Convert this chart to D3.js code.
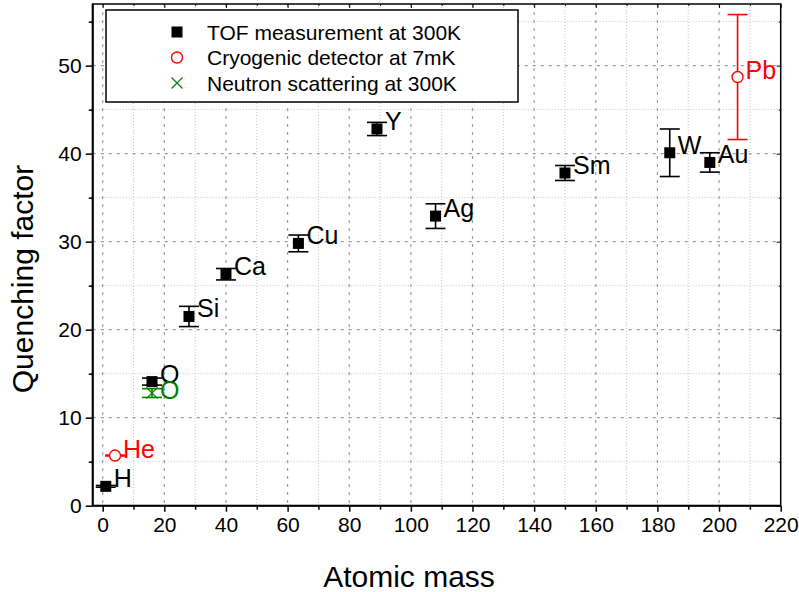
<!DOCTYPE html>
<html>
<head>
<meta charset="utf-8">
<script src="https://cdn.jsdelivr.net/npm/d3@7"></script>
<style>
  body { margin: 0; background: #fff; }
  svg text { font-family: "Liberation Sans", Arial, sans-serif; }
</style>
</head>
<body>
<svg id="chart" width="799" height="592"></svg>
<script>
// TOF measurement at 300K
var tofElements = ["H", "O", "Si", "Ca", "Cu", "Y", "Ag", "Sm", "W", "Au"];
var tofMass = [1, 16, 28, 40, 63.5, 89, 108, 150, 184, 197];
var tofQF = [2.2, 14.1, 21.5, 26.3, 29.8, 42.8, 32.9, 37.8, 40.1, 39.0];
var tofErr = [0.1, 0.4, 1.15, 0.65, 0.95, 0.75, 1.4, 0.85, 2.7, 1.1];

// Cryogenic detector at 7mK
var cryoElements = ["He", "Pb"];
var cryoMass = [4, 206];
var cryoQF = [5.7, 48.7];
var cryoErr = [0.05, 7.1];

// Neutron scattering at 300K
var neutronElements = ["O"];
var neutronMass = [16];
var neutronQF = [12.8];
var neutronErr = [0.5];

var xTicks = [0, 20, 40, 60, 80, 100, 120, 140, 160, 180, 200, 220];
var yTicks = [0, 10, 20, 30, 40, 50];

var legendLabels = ["TOF measurement at 300K", "Cryogenic detector at 7mK", "Neutron scattering at 300K"];

(function () {
    var svg = d3.select("#chart");
    var pLeft = 92.7, pRight = 780.7, pTop = 4, pBottom = 505.7;

    var x = d3.scaleLinear().domain([-3.24, 220]).range([pLeft, pRight]);
    var y = d3.scaleLinear().domain([0, 57]).range([pBottom, pTop]);

    var xMinor = d3.range(10, 220, 20);
    var yMinor = d3.range(5, 57, 10);

    // grid
    var grid = svg.append("g");
    grid.selectAll(".gxm").data(xMinor).enter().append("line")
        .attr("x1", d => x(d)).attr("x2", d => x(d)).attr("y1", pTop).attr("y2", pBottom)
        .attr("stroke", "#c4c4c4").attr("stroke-width", 1).attr("stroke-dasharray", "1,2");
    grid.selectAll(".gym").data(yMinor).enter().append("line")
        .attr("y1", d => y(d)).attr("y2", d => y(d)).attr("x1", pLeft).attr("x2", pRight)
        .attr("stroke", "#c4c4c4").attr("stroke-width", 1).attr("stroke-dasharray", "1,2");
    grid.selectAll(".gx").data(xTicks.filter(d => d < 220)).enter().append("line")
        .attr("x1", d => x(d)).attr("x2", d => x(d)).attr("y1", pTop).attr("y2", pBottom)
        .attr("stroke", "#9a9a9a").attr("stroke-width", 1.2).attr("stroke-dasharray", "3,5");
    grid.selectAll(".gy").data(yTicks.filter(d => d > 0)).enter().append("line")
        .attr("y1", d => y(d)).attr("y2", d => y(d)).attr("x1", pLeft).attr("x2", pRight)
        .attr("stroke", "#9a9a9a").attr("stroke-width", 1.2).attr("stroke-dasharray", "3,5");

    // frame, with inward ticks on top and right
    svg.append("rect").attr("x", pLeft).attr("y", pTop).attr("width", pRight - pLeft).attr("height", pBottom - pTop)
        .attr("fill", "none").attr("stroke", "#000").attr("stroke-width", 1.5);

    svg.append("g").attr("transform", "translate(0," + pTop + ")")
        .call(d3.axisTop(x).tickValues(xTicks).tickSize(-4).tickFormat(""))
        .call(g => g.select(".domain").remove());
    svg.append("g").attr("transform", "translate(0," + pTop + ")")
        .call(d3.axisTop(x).tickValues(xMinor).tickSize(-2).tickFormat(""))
        .call(g => g.select(".domain").remove());
    svg.append("g").attr("transform", "translate(" + pRight + ",0)")
        .call(d3.axisRight(y).tickValues(yTicks).tickSize(-4).tickFormat(""))
        .call(g => g.select(".domain").remove());
    svg.append("g").attr("transform", "translate(" + pRight + ",0)")
        .call(d3.axisRight(y).tickValues(yMinor).tickSize(-2).tickFormat(""))
        .call(g => g.select(".domain").remove());

    // bottom axis
    var xAxis = svg.append("g").attr("transform", "translate(0," + pBottom + ")")
        .call(d3.axisBottom(x).tickValues(xTicks).tickSize(6).tickPadding(5).tickFormat(d3.format("d")));
    xAxis.select(".domain").attr("d", "M" + pLeft + ",0H" + pRight).attr("stroke-width", 2);
    xAxis.selectAll(".tick line").attr("stroke-width", 1.5);
    xAxis.selectAll("text").attr("font-size", 21).attr("fill", "#000");
    svg.append("g").attr("transform", "translate(0," + pBottom + ")")
        .call(d3.axisBottom(x).tickValues(xMinor).tickSize(4).tickFormat(""))
        .call(g => g.select(".domain").remove())
        .selectAll("line").attr("stroke-width", 1.5);

    // left axis
    var yAxis = svg.append("g").attr("transform", "translate(" + pLeft + ",0)")
        .call(d3.axisLeft(y).tickValues(yTicks).tickSize(7).tickPadding(4));
    yAxis.select(".domain").attr("d", "M0," + pTop + "V" + pBottom).attr("stroke-width", 2);
    yAxis.selectAll(".tick line").attr("stroke-width", 1.5);
    yAxis.selectAll("text").attr("font-size", 21).attr("fill", "#000");
    svg.append("g").attr("transform", "translate(" + pLeft + ",0)")
        .call(d3.axisLeft(y).tickValues(yMinor).tickSize(4).tickFormat(""))
        .call(g => g.select(".domain").remove())
        .selectAll("line").attr("stroke-width", 1.5);

    // axis titles
    svg.append("text").attr("x", 409).attr("y", 587).attr("text-anchor", "middle")
        .attr("font-size", 30).text("Atomic mass");
    svg.append("text").attr("transform", "translate(33,279) rotate(-90)").attr("text-anchor", "middle")
        .attr("font-size", 30).text("Quenching factor");

    // error bars
    function errorBars(mass, qf, err, color) {
        var g = svg.append("g").attr("stroke", color).attr("stroke-width", 1.6).attr("fill", "none");
        mass.forEach(function (m, i) {
            var cx = x(m), y1 = y(qf[i] + err[i]), y2 = y(qf[i] - err[i]);
            g.append("line").attr("x1", cx).attr("x2", cx).attr("y1", y1).attr("y2", y2);
            g.append("line").attr("x1", cx - 10).attr("x2", cx + 10).attr("y1", y1).attr("y2", y1);
            g.append("line").attr("x1", cx - 10).attr("x2", cx + 10).attr("y1", y2).attr("y2", y2);
        });
    }
    errorBars(tofMass, tofQF, tofErr, "#000");
    errorBars(cryoMass, cryoQF, cryoErr, "#ff0000");
    errorBars(neutronMass, neutronQF, neutronErr, "#008000");

    // markers
    var sq = 11;
    var crossPath = "M-5.5,-5.5L5.5,5.5M-5.5,5.5L5.5,-5.5";
    svg.append("g").selectAll("rect").data(tofMass).enter().append("rect")
        .attr("x", d => x(d) - sq / 2).attr("y", (d, i) => y(tofQF[i]) - sq / 2)
        .attr("width", sq).attr("height", sq).attr("fill", "#000");
    svg.append("g").selectAll("circle").data(cryoMass).enter().append("circle")
        .attr("cx", d => x(d)).attr("cy", (d, i) => y(cryoQF[i])).attr("r", 5.5)
        .attr("fill", "#fff").attr("stroke", "#ff0000").attr("stroke-width", 1.4);
    svg.append("g").selectAll("path").data(neutronMass).enter().append("path")
        .attr("d", crossPath)
        .attr("transform", (d, i) => "translate(" + x(d) + "," + y(neutronQF[i]) + ")")
        .attr("stroke", "#008000").attr("stroke-width", 1.2).attr("fill", "none");

    // point labels
    function pointLabels(names, mass, qf, color, dy) {
        svg.append("g").selectAll("text").data(names).enter().append("text")
            .attr("x", (d, i) => x(mass[i]) + 8).attr("y", (d, i) => y(qf[i]) + dy)
            .attr("font-size", 25).attr("fill", color).text(d => d);
    }
    pointLabels(tofElements, tofMass, tofQF, "#000", 1);
    pointLabels(cryoElements, cryoMass, cryoQF, "#ff0000", 2);
    pointLabels(neutronElements, neutronMass, neutronQF, "#008000", 6);

    // legend
    var lg = svg.append("g");
    lg.append("rect").attr("x", 106).attr("y", 10).attr("width", 412).attr("height", 92)
        .attr("fill", "#fff").attr("stroke", "#000").attr("stroke-width", 1.5);
    var rowY = [32, 57.5, 83];
    lg.append("rect").attr("x", 177 - sq / 2).attr("y", rowY[0] - sq / 2).attr("width", sq).attr("height", sq).attr("fill", "#000");
    lg.append("circle").attr("cx", 177).attr("cy", rowY[1]).attr("r", 5.5)
        .attr("fill", "#fff").attr("stroke", "#ff0000").attr("stroke-width", 1.4);
    lg.append("path").attr("d", crossPath)
        .attr("transform", "translate(177," + rowY[2] + ")")
        .attr("stroke", "#008000").attr("stroke-width", 1.2).attr("fill", "none");
    lg.selectAll("text.l").data(legendLabels).enter().append("text")
        .attr("x", 207).attr("y", (d, i) => rowY[i] + 7.5)
        .attr("font-size", 21).attr("fill", "#000").text(d => d);
})();
</script>
</body>
</html>
